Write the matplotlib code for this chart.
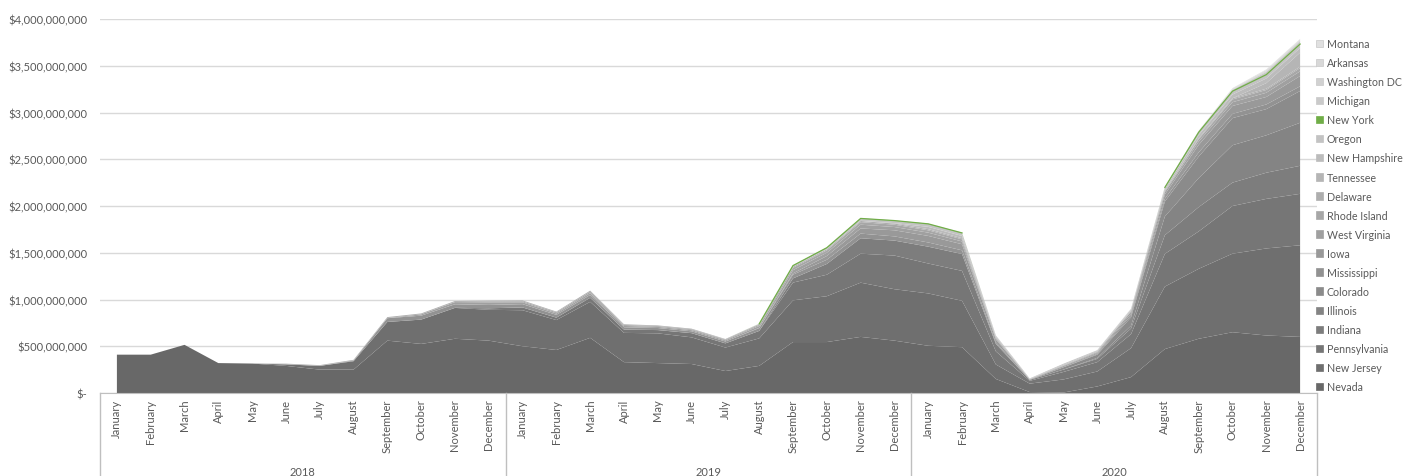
"""
Monthly sports betting handle by state, stacked area, 2018-2020
"""
import numpy as np
import matplotlib
matplotlib.use('Agg')
import matplotlib.pyplot as plt
from matplotlib.ticker import FuncFormatter, MultipleLocator
from matplotlib.patches import Patch

plt.rcParams['font.family'] = ['Lato', 'DejaVu Sans']

# ---------------- data (handle in $ millions) ----------------
month_names = ['January', 'February', 'March', 'April', 'May', 'June', 'July',
               'August', 'September', 'October', 'November', 'December']
years = ['2018', '2019', '2020']

states = ['Nevada', 'New Jersey', 'Pennsylvania', 'Indiana', 'Illinois', 'Colorado',
          'Mississippi', 'Iowa', 'West Virginia', 'Rhode Island', 'Delaware',
          'Tennessee', 'New Hampshire', 'Oregon', 'New York', 'Michigan',
          'Washington DC', 'Arkansas', 'Montana']

nevada = [410, 410, 515, 320, 315, 290, 250, 250, 560, 525, 580, 560,
          500, 460, 590, 330, 320, 310, 235, 290, 545, 545, 600, 560,
          505, 490, 150, 10, 5, 70, 170, 470, 580, 650, 615, 600]
new_jersey = [0, 0, 0, 0, 0, 16, 40, 90, 200, 260, 330, 330,
              385, 320, 385, 313, 318, 285, 251, 294, 446, 490, 580, 550,
              560, 496, 155, 90, 140, 160, 310, 668, 748, 840, 931, 980]
pennsylvania = [0, 0, 0, 0, 0, 0, 0, 0, 0, 0, 1, 16,
                30, 26, 43, 35, 35, 45, 45, 80, 190, 230, 310, 360,
                320, 320, 140, 30, 80, 100, 150, 350, 400, 510, 530, 550]
indiana = [0, 0, 0, 0, 0, 0, 0, 0, 0, 0, 0, 0,
           0, 0, 0, 0, 0, 0, 0, 0, 45, 115, 165, 160,
           180, 180, 80, 10, 25, 35, 60, 200, 260, 250, 280, 300]
illinois = [0, 0, 0, 0, 0, 0, 0, 0, 0, 0, 0, 0,
            0, 0, 0, 0, 0, 0, 0, 0, 0, 0, 0, 0,
            0, 0, 2, 0, 0, 10, 30, 200, 310, 400, 400, 460]
colorado = [0, 0, 0, 0, 0, 0, 0, 0, 0, 0, 0, 0,
            0, 0, 0, 0, 0, 0, 0, 0, 0, 0, 0, 0,
            0, 0, 0, 0, 25, 35, 90, 160, 230, 290, 280, 340]
mississippi = [0, 0, 0, 0, 0, 0, 0, 7, 40, 42, 38, 36,
               35, 30, 30, 25, 22, 20, 20, 30, 40, 45, 50, 45,
               45, 40, 15, 1, 2, 8, 20, 30, 45, 45, 50, 50]
iowa = [0, 0, 0, 0, 0, 0, 0, 0, 0, 0, 0, 0,
        0, 0, 0, 0, 0, 0, 0, 3, 13, 40, 55, 65,
        70, 65, 30, 3, 10, 10, 20, 45, 80, 85, 80, 110]
west_virginia = [0, 0, 0, 0, 0, 0, 0, 0, 2, 14, 23, 27,
                 20, 15, 20, 14, 12, 12, 12, 20, 35, 35, 40, 35,
                 35, 30, 10, 2, 5, 8, 20, 25, 35, 40, 45, 50]
rhode_island = [0, 0, 0, 0, 0, 0, 0, 0, 0, 0, 2, 9,
                10, 12, 15, 10, 9, 9, 8, 12, 25, 25, 28, 25,
                25, 23, 8, 1, 3, 4, 5, 10, 25, 30, 30, 35]
delaware = [0, 0, 0, 0, 0, 8, 8, 8, 10, 10, 10, 10,
            10, 8, 12, 8, 7, 7, 6, 8, 12, 12, 12, 12,
            12, 11, 4, 0, 0, 1, 3, 5, 10, 12, 13, 15]
tennessee = [0, 0, 0, 0, 0, 0, 0, 0, 0, 0, 0, 0,
             0, 0, 0, 0, 0, 0, 0, 0, 0, 0, 0, 0,
             0, 0, 0, 0, 0, 0, 0, 0, 0, 0, 60, 150]
new_hampshire = [0, 0, 0, 0, 0, 0, 0, 0, 0, 0, 0, 0,
                 0, 0, 0, 0, 0, 0, 0, 0, 0, 0, 0, 5,
                 25, 25, 10, 4, 8, 8, 10, 20, 35, 40, 50, 50]
oregon = [0, 0, 0, 0, 0, 0, 0, 0, 0, 0, 0, 0,
          0, 0, 0, 0, 0, 0, 0, 2, 10, 15, 25, 25,
          30, 30, 10, 5, 10, 8, 10, 15, 30, 35, 40, 40]
new_york = [0, 0, 0, 0, 0, 0, 0, 0, 0, 0, 0, 0,
            0, 0, 0, 0, 0, 0, 0, 1, 2, 2, 2, 2,
            2, 2, 0, 0, 0, 0, 0, 1, 1, 1, 1, 2]
michigan = [0, 0, 0, 0, 0, 0, 0, 0, 0, 0, 0, 0,
            0, 0, 0, 0, 0, 0, 0, 0, 0, 0, 0, 0,
            0, 0, 1, 0, 0, 1, 2, 2, 5, 15, 30, 30]
washington_dc = [0, 0, 0, 0, 0, 0, 0, 0, 0, 0, 0, 0,
                 0, 0, 0, 0, 0, 0, 0, 0, 0, 0, 0, 0,
                 0, 0, 0, 0, 0, 0, 1, 2, 3, 5, 8, 8]
arkansas = [0, 0, 0, 0, 0, 0, 0, 0, 0, 0, 0, 0,
            0, 0, 0, 0, 0, 0, 1, 2, 3, 3, 4, 3,
            3, 3, 1, 0, 0, 0, 1, 2, 5, 8, 10, 10]
montana = [0, 0, 0, 0, 0, 0, 0, 0, 0, 0, 0, 0,
           0, 0, 0, 0, 0, 0, 0, 0, 0, 0, 0, 0,
           0, 0, 0.3, 0, 0, 0.5, 1, 1, 3, 5, 8, 7]

series = [nevada, new_jersey, pennsylvania, indiana, illinois, colorado,
          mississippi, iowa, west_virginia, rhode_island, delaware, tennessee,
          new_hampshire, oregon, new_york, michigan, washington_dc, arkansas, montana]

# grey ramp, New York in green
colors = ['#686868', '#6f6f6f', '#767676', '#7d7d7d', '#848484', '#8b8b8b',
          '#929292', '#999999', '#a0a0a0', '#a7a7a7', '#aeaeae', '#b5b5b5',
          '#bcbcbc', '#c3c3c3', '#70ad47', '#cacaca', '#d1d1d1', '#d8d8d8', '#e0e0e0']

text_color = '#595959'
grid_color = '#d9d9d9'
axis_color = '#bfbfbf'

# ---------------- figure ----------------
fig = plt.figure(figsize=(14.05, 4.77), dpi=100)
ax = fig.add_axes([100 / 1405, 1 - 394 / 477, 1217 / 1405, 374 / 477])

x = np.arange(len(nevada))
values = np.array(series, dtype=float) * 1e6
polys = ax.stackplot(x, values, colors=colors, linewidth=0)

# New York shows up only as a thin green edge on top of its layer
cum = np.cumsum(values, axis=0)
ny_idx = states.index('New York')
ny_top = np.ma.masked_where(values[ny_idx] == 0, cum[ny_idx])
ax.plot(x, ny_top, color='#70ad47', lw=0.9, zorder=3)

ax.set_xlim(-0.5, len(x) - 0.5)
ax.set_ylim(0, 4e9)
ax.yaxis.set_major_locator(MultipleLocator(5e8))
ax.yaxis.set_major_formatter(FuncFormatter(lambda v, p: '$-' if v == 0 else f'${v:,.0f}'))
ax.grid(axis='y', color=grid_color, lw=1)
ax.set_axisbelow(True)

for s in ['top', 'right', 'left']:
    ax.spines[s].set_visible(False)
ax.spines['bottom'].set_color(axis_color)

ax.set_xticks(x)
ax.set_xticklabels(month_names * 3, rotation=90, fontsize=8, color=text_color)
ax.tick_params(axis='x', length=0, pad=4)
ax.tick_params(axis='y', length=0, labelsize=8, labelcolor=text_color, pad=9)

# year group separators and labels
trans = ax.get_xaxis_transform()
for b in [-0.5, 11.5, 23.5, 35.5]:
    ax.plot([b, b], [0, -0.23], color=axis_color, lw=1, transform=trans, clip_on=False)
for i, yr in enumerate(years):
    ax.text(i * 12 + 5.5, -0.21, yr, transform=trans, ha='center', va='center',
            fontsize=8, color=text_color)

# legend, top entry Montana
handles = [Patch(facecolor=c, edgecolor='#c8c8c8' if i >= 15 else c, lw=0.5)
           for i, c in enumerate(colors)]
leg = fig.legend(handles[::-1], states[::-1], loc='upper left',
                 bbox_to_anchor=(1316 / 1405, 1 - 39 / 477), frameon=False,
                 fontsize=7.7, handlelength=0.65, handleheight=0.7, handletextpad=0.35,
                 labelspacing=0.755, borderaxespad=0, borderpad=0)
for t in leg.get_texts():
    t.set_color(text_color)

plt.savefig('out.png', dpi=100)
